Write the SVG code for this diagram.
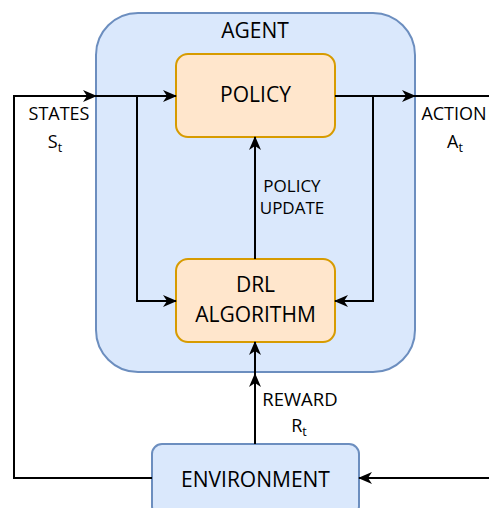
<svg xmlns="http://www.w3.org/2000/svg" width="489" height="508" viewBox="0 0 489 508">
<style>
text{font-family:"Open Sans","Liberation Sans",sans-serif;fill:#000;text-anchor:middle}
.big{font-size:21px}
.lbl{font-size:18px}
.sub{font-size:12.5px}
.blue{fill:#dae8fc;stroke:#6c8ebf;stroke-width:2}
.orange{fill:#ffe6cc;stroke:#d79b00;stroke-width:2}
.edge{fill:none;stroke:#000;stroke-width:2}
</style>
<defs>
<marker id="arr" markerUnits="userSpaceOnUse" markerWidth="14" markerHeight="12" viewBox="0 0 14 12" refX="13" refY="6" orient="auto">
<path d="M0,0 L14,6 L0,12 L4,6 z" fill="#000"/>
</marker>
</defs>
<g id="agent">
<rect class="blue" x="96" y="13" width="319" height="359" rx="42" ry="42"/>
<text class="big" x="255" y="38">AGENT</text>
</g>
<g id="environment">
<rect class="blue" x="152" y="444" width="207" height="72" rx="10" ry="10"/>
<text class="big" x="255.5" y="487">ENVIRONMENT</text>
</g>
<g id="policy">
<rect class="orange" x="176" y="54" width="159" height="83" rx="12" ry="12"/>
<text class="big" x="255.5" y="102">POLICY</text>
</g>
<g id="drl">
<rect class="orange" x="176" y="259" width="159" height="83" rx="12" ry="12"/>
<text class="big" x="255.5" y="292">DRL</text>
<text class="big" x="255.5" y="322">ALGORITHM</text>
</g>
<g id="connectors">
<path class="edge" d="M152,478 H14 V96 H96" marker-end="url(#arr)"/>
<path class="edge" d="M96,96 H176" marker-end="url(#arr)"/>
<path class="edge" d="M137,96 V301 H176" marker-end="url(#arr)"/>
<path class="edge" d="M335,96 H415" marker-end="url(#arr)"/>
<path class="edge" d="M415,96 H489"/>
<path class="edge" d="M373,96 V301 H335" marker-end="url(#arr)"/>
<path class="edge" d="M255,259 V137" marker-end="url(#arr)"/>
<path class="edge" d="M255,444 V374" marker-end="url(#arr)"/>
<path class="edge" d="M255,374 V342" marker-end="url(#arr)"/>
<path class="edge" d="M489,478 H359" marker-end="url(#arr)"/>
</g>
<g id="labels">
<text class="lbl" x="59" y="120">STATES</text>
<text class="lbl" x="55" y="148">S<tspan class="sub" dy="4">t</tspan></text>
<text class="lbl" x="454" y="120">ACTION</text>
<text class="lbl" x="455" y="148">A<tspan class="sub" dy="4">t</tspan></text>
<text class="lbl" x="292" y="192" style="font-size:17px">POLICY</text>
<text class="lbl" x="292" y="214" style="font-size:17px">UPDATE</text>
<text class="lbl" x="300" y="406" style="font-size:18.5px">REWARD</text>
<text class="lbl" x="299" y="432">R<tspan class="sub" dy="4">t</tspan></text>
</g>
</svg>
